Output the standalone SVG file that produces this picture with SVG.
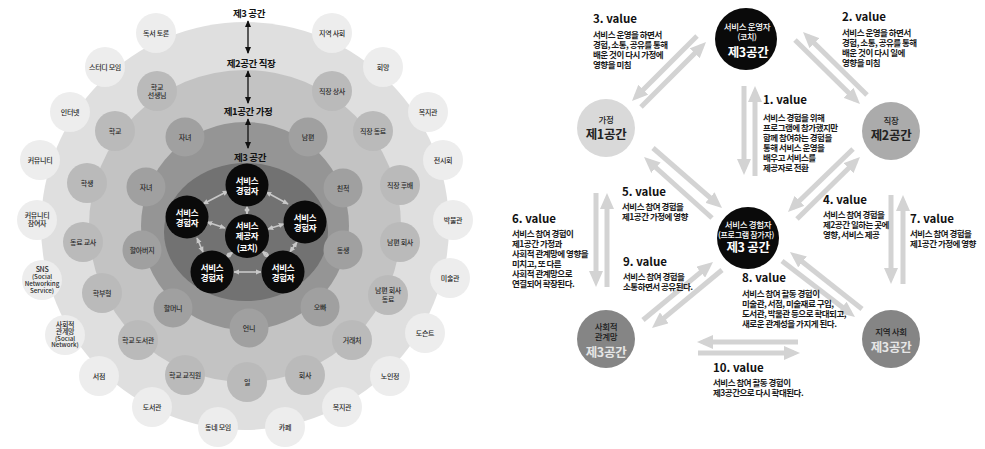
<svg xmlns="http://www.w3.org/2000/svg" width="985" height="449" viewBox="0 0 985 449">
<defs>
<style>
text{font-family:"Noto Sans CJK KR","Noto Sans",sans-serif}
.c0{fill:#ededed}.c1{fill:#bababa}.c2{fill:#a0a0a0}.bk{fill:#0a0a0a}
.t7{font-size:7px;font-weight:500;fill:#2b2b2b;text-anchor:middle;letter-spacing:-0.3px}
.t6{font-size:6.2px;letter-spacing:0}
.tw{font-size:8.5px;font-weight:700;fill:#fff;text-anchor:middle;letter-spacing:-0.4px}
.lab{font-size:9.5px;font-weight:700;fill:#111;text-anchor:middle;letter-spacing:-0.4px}
.vt{font-size:11.5px;font-weight:700;fill:#111;letter-spacing:0}
.bd{font-size:8.5px;font-weight:700;fill:#1a1a1a;letter-spacing:-0.5px}
.ga{stroke:#d3d3d3;stroke-width:5;fill:none;marker-end:url(#ah)}
.la{stroke:#c8c8c8;stroke-width:1.6;fill:none;marker-start:url(#lh);marker-end:url(#lh)}
.ba{stroke:#111;stroke-width:1.3;fill:none;marker-start:url(#bh);marker-end:url(#bh)}
.nd{text-anchor:middle;font-size:8.5px;font-weight:500;letter-spacing:-0.3px}
.nb{font-size:12.5px;font-weight:700}
.ns8{font-size:8px}
</style>
<marker id="ah" viewBox="0 0 16 14" refX="10" refY="7" markerWidth="16" markerHeight="14" markerUnits="userSpaceOnUse" orient="auto"><path d="M0,0 L16,7 L0,14 z" fill="#d3d3d3"/></marker>
<marker id="bh" viewBox="0 0 8 8" refX="7" refY="4" markerWidth="7" markerHeight="7" markerUnits="userSpaceOnUse" orient="auto-start-reverse"><path d="M0,0.5 L8,4 L0,7.5 z" fill="#111"/></marker>
<marker id="lh" viewBox="0 0 8 8" refX="7" refY="4" markerWidth="6" markerHeight="6" markerUnits="userSpaceOnUse" orient="auto-start-reverse"><path d="M0,0.5 L8,4 L0,7.5 z" fill="#c8c8c8"/></marker>
</defs>
<rect width="985" height="449" fill="#fff"/>

<g id="zones">
<circle cx="245" cy="226" r="204" fill="#dfdfdf"/>
<circle cx="245" cy="226" r="156" fill="#c3c3c3"/>
<circle cx="245" cy="226" r="104" fill="#959595"/>
<ellipse cx="246" cy="232" rx="82" ry="69" fill="#727272"/>
</g>

<g id="outer-ring">
<g id="o1"><circle class="c0" cx="156" cy="33" r="20"/><text class="t7" x="156" y="35.8">독서 토론</text></g>
<g id="o2"><circle class="c0" cx="105" cy="67" r="20"/><text class="t7" x="105" y="69.8">스터디 모임</text></g>
<g id="o3"><circle class="c0" cx="70" cy="112" r="20"/><text class="t7" x="70" y="114.8">인터넷</text></g>
<g id="o4"><circle class="c0" cx="40" cy="160" r="20"/><text class="t7" x="40" y="162.8">커뮤니티</text></g>
<g id="o5"><circle class="c0" cx="37" cy="220" r="20"/><text class="t7" x="37" y="217.5">커뮤니티<tspan x="37" dy="8.5">참여자</tspan></text></g>
<g id="o6"><circle class="c0" cx="42" cy="280" r="20"/><text class="t7" x="42" y="271.5">SNS<tspan class="t6" x="42" dy="7.5">(Social</tspan><tspan class="t6" x="42" dy="7">Networking</tspan><tspan class="t6" x="42" dy="7">Service)</tspan></text></g>
<g id="o7"><circle class="c0" cx="65" cy="335" r="20"/><text class="t7" x="65" y="326.5">사회적<tspan x="65" dy="7.5">관계망</tspan><tspan class="t6" x="65" dy="6.5">(Social</tspan><tspan class="t6" x="65" dy="6.5">Network)</tspan></text></g>
<g id="o8"><circle class="c0" cx="99" cy="376" r="20"/><text class="t7" x="99" y="378.8">서점</text></g>
<g id="o9"><circle class="c0" cx="152" cy="407" r="20"/><text class="t7" x="152" y="409.8">도서관</text></g>
<g id="o10"><circle class="c0" cx="218" cy="427" r="20"/><text class="t7" x="218" y="429.8">동네 모임</text></g>
<g id="o11"><circle class="c0" cx="285" cy="427" r="20"/><text class="t7" x="285" y="429.8">카페</text></g>
<g id="o12"><circle class="c0" cx="342" cy="407" r="20"/><text class="t7" x="342" y="409.8">복지관</text></g>
<g id="o13"><circle class="c0" cx="390" cy="376" r="20"/><text class="t7" x="390" y="378.8">노인정</text></g>
<g id="o14"><circle class="c0" cx="425" cy="333" r="20"/><text class="t7" x="425" y="335.8">도슨트</text></g>
<g id="o15"><circle class="c0" cx="450" cy="278" r="20"/><text class="t7" x="450" y="280.8">미술관</text></g>
<g id="o16"><circle class="c0" cx="453" cy="220" r="20"/><text class="t7" x="453" y="222.8">박물관</text></g>
<g id="o17"><circle class="c0" cx="443" cy="160" r="20"/><text class="t7" x="443" y="162.8">전시회</text></g>
<g id="o18"><circle class="c0" cx="428" cy="112" r="20"/><text class="t7" x="428" y="114.8">복지관</text></g>
<g id="o19"><circle class="c0" cx="383" cy="67" r="20"/><text class="t7" x="383" y="69.8">회망</text></g>
<g id="o20"><circle class="c0" cx="332" cy="33" r="20"/><text class="t7" x="332" y="35.8">지역 사회</text></g>
</g>

<g id="work-ring">
<g id="w1"><circle class="c1" cx="157" cy="91" r="20"/><text class="t7" x="157" y="89.5">학교<tspan x="157" dy="8.5">선생님</tspan></text></g>
<g id="w2"><circle class="c1" cx="115" cy="131" r="20"/><text class="t7" x="115" y="133.8">학교</text></g>
<g id="w3"><circle class="c1" cx="87" cy="183" r="20"/><text class="t7" x="87" y="185.8">학생</text></g>
<g id="w4"><circle class="c1" cx="83" cy="242" r="20"/><text class="t7" x="83" y="244.8">동료 교사</text></g>
<g id="w5"><circle class="c1" cx="102" cy="293" r="20"/><text class="t7" x="102" y="295.8">학부형</text></g>
<g id="w6"><circle class="c1" cx="138" cy="340" r="20"/><text class="t7" x="138" y="342.8">학교 도서관</text></g>
<g id="w7"><circle class="c1" cx="185" cy="375" r="20"/><text class="t7" x="185" y="377.8">학교 교직원</text></g>
<g id="w8"><circle class="c1" cx="247" cy="382" r="20"/><text class="t7" x="247" y="384.8">일</text></g>
<g id="w9"><circle class="c1" cx="305" cy="375" r="20"/><text class="t7" x="305" y="377.8">회사</text></g>
<g id="w10"><circle class="c1" cx="352" cy="340" r="20"/><text class="t7" x="352" y="342.8">거래처</text></g>
<g id="w11"><circle class="c1" cx="388" cy="295" r="20"/><text class="t7" x="388" y="293">남편 회사<tspan x="388" dy="8.5">동료</tspan></text></g>
<g id="w12"><circle class="c1" cx="400" cy="242" r="20"/><text class="t7" x="400" y="244.8">남편 회사</text></g>
<g id="w13"><circle class="c1" cx="400" cy="185" r="20"/><text class="t7" x="400" y="187.8">직장 후배</text></g>
<g id="w14"><circle class="c1" cx="373" cy="131" r="20"/><text class="t7" x="373" y="133.8">직장 동료</text></g>
<g id="w15"><circle class="c1" cx="332" cy="91" r="20"/><text class="t7" x="332" y="93.8">직장 상사</text></g>
</g>

<g id="family-ring">
<g id="f1"><circle class="c2" cx="185" cy="137" r="19.5"/><text class="t7" x="185" y="139.8">자녀</text></g>
<g id="f2"><circle class="c2" cx="308" cy="137" r="19.5"/><text class="t7" x="308" y="139.8">남편</text></g>
<g id="f3"><circle class="c2" cx="146" cy="187" r="19.5"/><text class="t7" x="146" y="189.8">자녀</text></g>
<g id="f4"><circle class="c2" cx="343" cy="188" r="19.5"/><text class="t7" x="343" y="190.8">친척</text></g>
<g id="f5"><circle class="c2" cx="142" cy="250" r="19.5"/><text class="t7" x="142" y="252.8">할아버지</text></g>
<g id="f6"><circle class="c2" cx="343" cy="250" r="19.5"/><text class="t7" x="343" y="252.8">동생</text></g>
<g id="f7"><circle class="c2" cx="173" cy="308" r="19.5"/><text class="t7" x="173" y="310.8">할머니</text></g>
<g id="f8"><circle class="c2" cx="320" cy="307" r="19.5"/><text class="t7" x="320" y="309.8">오빠</text></g>
<g id="f9"><circle class="c2" cx="249" cy="328" r="19.5"/><text class="t7" x="249" y="330.8">언니</text></g>
</g>

<g id="zone-labels">
<text class="lab" x="249" y="17">제3 공간</text>
<text class="lab" x="251" y="66.5">제2공간 직장</text>
<text class="lab" x="248" y="114.5">제1공간 가정</text>
<text class="lab" x="250" y="161">제3 공간</text>
</g>

<g id="left-connectors">
<line class="ba" x1="248" y1="21" x2="248" y2="53"/>
<line class="ba" x1="248" y1="71" x2="248" y2="103"/>
<line class="ba" x1="248" y1="119" x2="248" y2="148"/>
<line class="la" x1="247" y1="206" x2="247" y2="214"/>
<line class="la" x1="207" y1="222" x2="225" y2="228"/>
<line class="la" x1="268" y1="229" x2="284" y2="224"/>
<line class="la" x1="233" y1="252" x2="225" y2="258"/>
<line class="la" x1="262" y1="251" x2="270" y2="258"/>
<line class="la" x1="203" y1="204" x2="228" y2="191"/>
<line class="la" x1="266" y1="192" x2="288" y2="204"/>
<line class="la" x1="297" y1="242" x2="290" y2="252"/>
<line class="la" x1="197" y1="238" x2="203" y2="252"/>
<line class="la" x1="234" y1="272" x2="261" y2="272"/>
</g>

<g id="service-circles">
<g id="s-top"><circle class="bk" cx="247" cy="185" r="21.5"/><text class="tw" x="247" y="184">서비스<tspan x="247" dy="10">경험자</tspan></text></g>
<g id="s-left"><circle class="bk" cx="187" cy="217" r="21.5"/><text class="tw" x="187" y="216">서비스<tspan x="187" dy="10">경험자</tspan></text></g>
<g id="s-right"><circle class="bk" cx="305" cy="222" r="21.5"/><text class="tw" x="305" y="221">서비스<tspan x="305" dy="10">경험자</tspan></text></g>
<g id="s-bl"><circle class="bk" cx="212" cy="272" r="21.5"/><text class="tw" x="212" y="271">서비스<tspan x="212" dy="10">경험자</tspan></text></g>
<g id="s-br"><circle class="bk" cx="283" cy="272" r="21.5"/><text class="tw" x="283" y="271">서비스<tspan x="283" dy="10">경험자</tspan></text></g>
<g id="s-center"><circle class="bk" cx="247" cy="236" r="22"/><text class="tw" x="247" y="229">서비스<tspan x="247" dy="9.5">제공자</tspan><tspan x="247" dy="12.5">(코치)</tspan></text></g>
</g>

<g id="right-connectors">
<line class="ga" x1="744" y1="86" x2="744" y2="169"/>
<line class="ga" x1="755" y1="176" x2="755" y2="92"/>
<line class="ga" x1="867" y1="95" x2="807.3" y2="36.2"/>
<line class="ga" x1="795" y1="40" x2="855.7" y2="99.8"/>
<line class="ga" x1="697" y1="36" x2="636.2" y2="96.8"/>
<line class="ga" x1="641" y1="107" x2="701.8" y2="46.2"/>
<line class="ga" x1="853" y1="149" x2="792.3" y2="207.8"/>
<line class="ga" x1="797" y1="219" x2="855.7" y2="161.2"/>
<line class="ga" x1="712" y1="218" x2="648.5" y2="161"/>
<line class="ga" x1="653" y1="148" x2="717.5" y2="204.1"/>
<line class="ga" x1="596" y1="193" x2="596" y2="281"/>
<line class="ga" x1="607" y1="287" x2="607" y2="199"/>
<line class="ga" x1="891" y1="195" x2="891" y2="278"/>
<line class="ga" x1="903" y1="284" x2="903" y2="201"/>
<line class="ga" x1="862" y1="309" x2="794.7" y2="255.7"/>
<line class="ga" x1="782" y1="261" x2="850.2" y2="313.3"/>
<line class="ga" x1="643" y1="320" x2="708.4" y2="265.8"/>
<line class="ga" x1="722" y1="270" x2="656.6" y2="324.2"/>
<line class="ga" x1="798" y1="342" x2="703" y2="342"/>
<line class="ga" x1="698" y1="353" x2="794" y2="353"/>
</g>

<g id="n-operator"><circle cx="746" cy="39" r="31" fill="#0a0a0a"/><text class="nd" x="747" y="30" fill="#fff">서비스 운영자<tspan class="ns8" x="747" dy="9.5">(코치)</tspan><tspan class="nb" x="748" dy="17">제3공간</tspan></text></g>
<g id="n-home"><circle cx="606" cy="128" r="29" fill="#d9d9d9"/><text class="nd" x="606" y="123" fill="#222">가정<tspan class="nb" x="606" dy="16">제1공간</tspan></text></g>
<g id="n-work"><circle cx="891" cy="131" r="29" fill="#ababab"/><text class="nd" x="891" y="124" fill="#222">직장<tspan class="nb" x="891" dy="16">제2공간</tspan></text></g>
<g id="n-participant"><circle cx="748" cy="238" r="31" fill="#0a0a0a"/><text class="nd" x="748" y="228" fill="#fff">서비스 경험자<tspan class="ns8" x="746" dy="10">(프로그램 참가자)</tspan><tspan class="nb" x="748" dy="14">제3 공간</tspan></text></g>
<g id="n-social"><circle cx="606" cy="339" r="29" fill="#858585"/><text class="nd" x="606" y="329.5" fill="#1a1a1a">사회적<tspan x="606" dy="10.5">관계망</tspan><tspan class="nb" x="606" dy="16.5" fill="#e6e6e6" font-weight="500">제3공간</tspan></text></g>
<g id="n-community"><circle cx="891" cy="339" r="29" fill="#858585"/><text class="nd" x="891" y="335" fill="#1a1a1a">지역 사회<tspan class="nb" x="891" dy="17" fill="#e6e6e6" font-weight="500">제3공간</tspan></text></g>

<g id="value-texts">
<text x="593" y="23"><tspan class="vt">3. value</tspan><tspan class="bd" x="593" dy="14.5">서비스 운영을 하면서</tspan><tspan class="bd" x="593" dy="10">경험, 소통, 공유를 통해</tspan><tspan class="bd" x="593" dy="10">배운 것이 다시 가정에</tspan><tspan class="bd" x="593" dy="10">영향을 미침</tspan></text>
<text x="842" y="20.5"><tspan class="vt">2. value</tspan><tspan class="bd" x="842" dy="15">서비스 운영을 하면서</tspan><tspan class="bd" x="842" dy="10">경험, 소통, 공유를 통해</tspan><tspan class="bd" x="842" dy="10">배운 것이 다시 일에</tspan><tspan class="bd" x="842" dy="10">영향을 미침</tspan></text>
<text x="763" y="104"><tspan class="vt">1. value</tspan><tspan class="bd" x="763" dy="16.5">서비스 경험을 위해</tspan><tspan class="bd" x="763" dy="10">프로그램에 참가했지만</tspan><tspan class="bd" x="763" dy="10">함께 참여하는 경험을</tspan><tspan class="bd" x="763" dy="10">통해 서비스 운영을</tspan><tspan class="bd" x="763" dy="10">배우고 서비스를</tspan><tspan class="bd" x="763" dy="10">제공자로 전환</tspan></text>
<text x="823" y="204"><tspan class="vt">4. value</tspan><tspan class="bd" x="823" dy="13.5">서비스 참여 경험을</tspan><tspan class="bd" x="823" dy="10">제2공간 일하는 곳에</tspan><tspan class="bd" x="823" dy="10">영향, 서비스 제공</tspan></text>
<text x="910" y="222.5"><tspan class="vt">7. value</tspan><tspan class="bd" x="910" dy="14">서비스 참여 경험을</tspan><tspan class="bd" x="910" dy="10">제1공간 가정에 영향</tspan></text>
<text x="622" y="196"><tspan class="vt">5. value</tspan><tspan class="bd" x="622" dy="14">서비스 참여 경험을</tspan><tspan class="bd" x="622" dy="10">제1공간 가정에 영향</tspan></text>
<text x="512" y="223"><tspan class="vt">6. value</tspan><tspan class="bd" x="512" dy="13.5">서비스 참여 경험이</tspan><tspan class="bd" x="512" dy="10">제1공간 가정과</tspan><tspan class="bd" x="512" dy="10">사회적 관계망에 영향을</tspan><tspan class="bd" x="512" dy="10">미치고, 또 다른</tspan><tspan class="bd" x="512" dy="10">사회적 관계망으로</tspan><tspan class="bd" x="512" dy="10">연결되어 확장된다.</tspan></text>
<text x="623" y="265.5"><tspan class="vt">9. value</tspan><tspan class="bd" x="623" dy="14.5">서비스 참여 경험을</tspan><tspan class="bd" x="623" dy="10">소통하면서 공유된다.</tspan></text>
<text x="742" y="281.5"><tspan class="vt">8. value</tspan><tspan class="bd" x="742" dy="15.5">서비스 참여 활동 경험이</tspan><tspan class="bd" x="742" dy="10">미술관, 서점, 미술재료 구입,</tspan><tspan class="bd" x="742" dy="10">도서관, 박물관 등으로 확대되고,</tspan><tspan class="bd" x="742" dy="10">새로운 관계성을 가지게 된다.</tspan></text>
<text x="713" y="371.5"><tspan class="vt">10. value</tspan><tspan class="bd" x="713" dy="14.5">서비스 참여 활동 경험이</tspan><tspan class="bd" x="713" dy="10">제3공간으로 다시 확대된다.</tspan></text>
</g>
</svg>
